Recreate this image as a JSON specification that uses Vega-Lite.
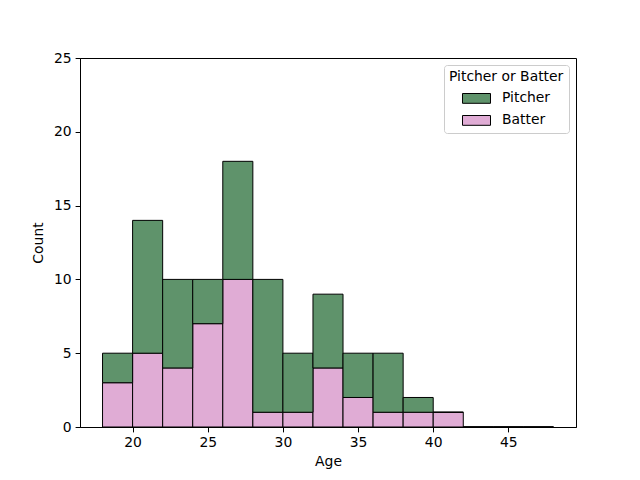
{
  "$schema": "https://vega.github.io/schema/vega-lite/v6.json",
  "width": 496,
  "height": 369,
  "autosize": {"type": "none"},
  "padding": {"left": 80, "top": 58, "right": 64, "bottom": 53},
  "config": {
    "font": "DejaVu Sans",
    "view": {"stroke": "black", "strokeWidth": 1},
    "axis": {
      "grid": false,
      "domainColor": "black",
      "tickColor": "black",
      "tickSize": 4.9,
      "labelFontSize": 13.9,
      "labelColor": "black",
      "titleFontSize": 13.9,
      "titleFontWeight": "normal",
      "titleColor": "black",
      "labelPadding": 4
    }
  },
  "data": {
    "values": [
      {"bin_start": 18, "bin_end": 20, "group": "Batter", "count": 3, "ord": 1},
      {"bin_start": 20, "bin_end": 22, "group": "Batter", "count": 5, "ord": 1},
      {"bin_start": 22, "bin_end": 24, "group": "Batter", "count": 4, "ord": 1},
      {"bin_start": 24, "bin_end": 26, "group": "Batter", "count": 7, "ord": 1},
      {"bin_start": 26, "bin_end": 28, "group": "Batter", "count": 10, "ord": 1},
      {"bin_start": 28, "bin_end": 30, "group": "Batter", "count": 1, "ord": 1},
      {"bin_start": 30, "bin_end": 32, "group": "Batter", "count": 1, "ord": 1},
      {"bin_start": 32, "bin_end": 34, "group": "Batter", "count": 4, "ord": 1},
      {"bin_start": 34, "bin_end": 36, "group": "Batter", "count": 2, "ord": 1},
      {"bin_start": 36, "bin_end": 38, "group": "Batter", "count": 1, "ord": 1},
      {"bin_start": 38, "bin_end": 40, "group": "Batter", "count": 1, "ord": 1},
      {"bin_start": 40, "bin_end": 42, "group": "Batter", "count": 1, "ord": 1},
      {"bin_start": 42, "bin_end": 44, "group": "Batter", "count": 0, "ord": 1},
      {"bin_start": 44, "bin_end": 46, "group": "Batter", "count": 0, "ord": 1},
      {"bin_start": 46, "bin_end": 48, "group": "Batter", "count": 0, "ord": 1},
      {"bin_start": 18, "bin_end": 20, "group": "Pitcher", "count": 2, "ord": 2},
      {"bin_start": 20, "bin_end": 22, "group": "Pitcher", "count": 9, "ord": 2},
      {"bin_start": 22, "bin_end": 24, "group": "Pitcher", "count": 6, "ord": 2},
      {"bin_start": 24, "bin_end": 26, "group": "Pitcher", "count": 3, "ord": 2},
      {"bin_start": 26, "bin_end": 28, "group": "Pitcher", "count": 8, "ord": 2},
      {"bin_start": 28, "bin_end": 30, "group": "Pitcher", "count": 9, "ord": 2},
      {"bin_start": 30, "bin_end": 32, "group": "Pitcher", "count": 4, "ord": 2},
      {"bin_start": 32, "bin_end": 34, "group": "Pitcher", "count": 5, "ord": 2},
      {"bin_start": 34, "bin_end": 36, "group": "Pitcher", "count": 3, "ord": 2},
      {"bin_start": 36, "bin_end": 38, "group": "Pitcher", "count": 4, "ord": 2},
      {"bin_start": 38, "bin_end": 40, "group": "Pitcher", "count": 1, "ord": 2},
      {"bin_start": 40, "bin_end": 42, "group": "Pitcher", "count": 0, "ord": 2},
      {"bin_start": 42, "bin_end": 44, "group": "Pitcher", "count": 0, "ord": 2},
      {"bin_start": 44, "bin_end": 46, "group": "Pitcher", "count": 0, "ord": 2},
      {"bin_start": 46, "bin_end": 48, "group": "Pitcher", "count": 0, "ord": 2}
    ]
  },
  "transform": [
    {"stack": "count", "groupby": ["bin_start"], "sort": [{"field": "ord", "order": "ascending"}], "as": ["y0", "y1"]}
  ],
  "mark": {"type": "bar", "stroke": "black", "strokeWidth": 1, "opacity": 1},
  "encoding": {
    "x": {
      "field": "bin_start",
      "type": "quantitative",
      "scale": {"domain": [16.5, 49.5], "nice": false, "zero": false},
      "axis": {"values": [20, 25, 30, 35, 40, 45], "title": "Age", "titlePadding": 5}
    },
    "x2": {"field": "bin_end"},
    "y": {
      "field": "y0",
      "type": "quantitative",
      "scale": {"domain": [0, 25], "nice": false},
      "axis": {"values": [0, 5, 10, 15, 20, 25], "title": "Count", "titlePadding": 8}
    },
    "y2": {"field": "y1"},
    "color": {
      "field": "group",
      "type": "nominal",
      "scale": {"domain": ["Pitcher", "Batter"], "range": ["#5f936b", "#e0acd5"]},
      "legend": {
        "title": "Pitcher or Batter",
        "orient": "top-right",
        "offset": 7,
        "fillColor": "white",
        "strokeColor": "#cccccc",
        "cornerRadius": 3,
        "padding": 5,
        "titleFontSize": 13.9,
        "titleFontWeight": "normal",
        "titleColor": "black",
        "titlePadding": 0,
        "labelFontSize": 13.9,
        "labelColor": "black",
        "labelOffset": 11,
        "rowPadding": -6,
        "symbolOffset": 13,
        "symbolType": "M-1,-0.35L1,-0.35L1,0.35L-1,0.35Z",
        "symbolSize": 784,
        "symbolStrokeColor": "black",
        "symbolStrokeWidth": 1,
        "symbolOpacity": 1
      }
    }
  }
}
